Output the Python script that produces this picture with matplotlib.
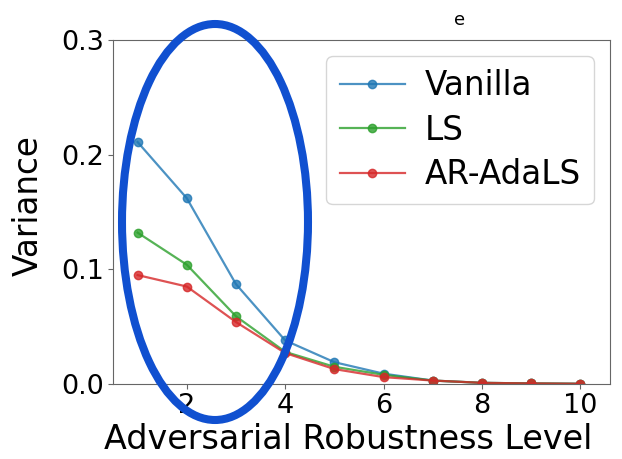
import matplotlib
matplotlib.use("Agg")
import matplotlib.pyplot as plt
from matplotlib.patches import Ellipse

levels = [1, 2, 3, 4, 5, 6, 7, 8, 9, 10]
vanilla = [0.211, 0.162, 0.087, 0.038, 0.019, 0.009, 0.003, 0.001, 0.0005, 0.0002]
ls = [0.132, 0.104, 0.059, 0.028, 0.015, 0.008, 0.003, 0.001, 0.0005, 0.0002]
ar_adals = [0.095, 0.085, 0.054, 0.027, 0.013, 0.006, 0.003, 0.001, 0.0005, 0.0002]

fig = plt.figure(figsize=(6.22, 4.59), dpi=100)
ax = fig.add_axes([113 / 622, 1 - 384 / 459, 497 / 622, 344 / 459])

ax.plot(levels, vanilla, marker='o', ms=6, lw=1.6, color='#1f77b4', alpha=0.8, label='Vanilla')
ax.plot(levels, ls, marker='o', ms=6, lw=1.6, color='#2ca02c', alpha=0.8, label='LS')
ax.plot(levels, ar_adals, marker='o', ms=6, lw=1.6, color='#d62728', alpha=0.8, label='AR-AdaLS')

ax.set_xlim(0.5, 10.6)
ax.set_ylim(0, 0.3)
ax.set_xticks([2, 4, 6, 8, 10])
ax.set_yticks([0.0, 0.1, 0.2, 0.3])
ax.tick_params(labelsize=19.5, color='#666666', pad=3)
for s in ax.spines.values():
    s.set_color('#666666')
ax.set_xlabel('Adversarial Robustness Level', fontsize=24)
ax.set_ylabel('Variance', fontsize=23.5)
ax.xaxis.set_label_coords(0.473, -0.112)
ax.yaxis.set_label_coords(-0.138, 0.52)
ax.legend(fontsize=23.5, loc='upper right', handlelength=2.0, borderaxespad=0.5,
          labelspacing=0.35, handletextpad=0.6)

# remnant of a cropped title at the top
fig.text(460 / 622, 1 - 20 / 459, 'e', fontsize=13, va='center', ha='center')

# highlight ellipse
ell = Ellipse((215 / 622, 1 - 222 / 459), 186 / 622, 396 / 459,
              transform=fig.transFigure, fill=False, ec='#1050d0', lw=5.8, clip_on=False)
fig.patches.append(ell)

fig.savefig('out.png', dpi=100)
